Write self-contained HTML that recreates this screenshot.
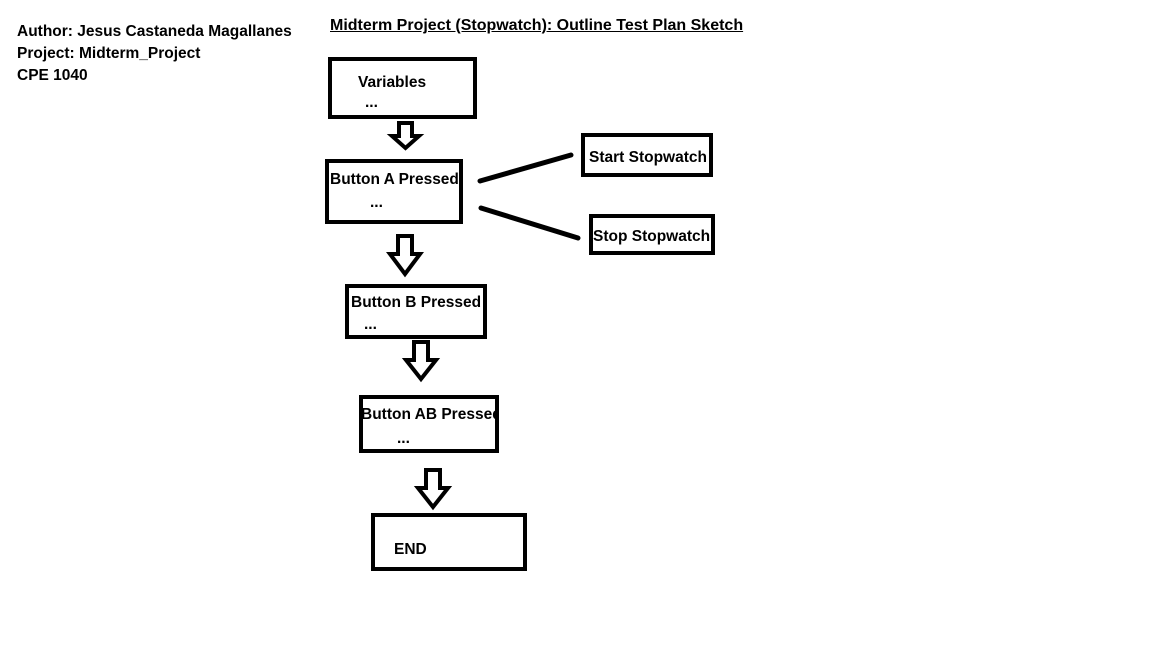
<!DOCTYPE html>
<html><head><style>
body{margin:0;width:1152px;height:648px;background:#fff;position:relative;overflow:hidden;font-family:"Liberation Sans",sans-serif;font-weight:bold;font-size:15.5px;color:#000}
.t{position:absolute;white-space:nowrap}
.b{position:absolute;border:4px solid #000;box-sizing:border-box;overflow:hidden}
</style></head><body>
<div class="t" style="left:17px;top:21px;line-height:22px">Author: Jesus Castaneda Magallanes<br>Project: Midterm_Project<br>CPE 1040</div>
<div class="t" style="left:330px;top:17px;text-decoration:underline;font-size:16px">Midterm Project (Stopwatch): Outline Test Plan Sketch</div>

<div class="b" style="left:328px;top:57px;width:149px;height:62px"></div>
<div class="t" style="left:358px;top:74px">Variables</div>
<div class="t" style="left:365px;top:94px">...</div>

<div class="b" style="left:325px;top:159px;width:138px;height:65px"><div class="t" style="left:1px;top:8px">Button A Pressed</div></div>
<div class="t" style="left:370px;top:194px">...</div>

<div class="b" style="left:581px;top:133px;width:132px;height:44px"><div class="t" style="left:4px;top:12px">Start Stopwatch</div></div>
<div class="b" style="left:589px;top:214px;width:126px;height:41px"><div class="t" style="left:0px;top:10px">Stop Stopwatch</div></div>

<div class="b" style="left:345px;top:284px;width:142px;height:55px"><div class="t" style="left:2px;top:6px">Button B Pressed</div></div>
<div class="t" style="left:364px;top:316px">...</div>

<div class="b" style="left:359px;top:395px;width:140px;height:58px"><div class="t" style="left:-2px;top:7px">Button AB Pressed</div></div>
<div class="t" style="left:397px;top:430px">...</div>

<div class="b" style="left:371px;top:513px;width:156px;height:58px"></div>
<div class="t" style="left:394px;top:541px">END</div>

<svg width="1152" height="648" style="position:absolute;left:0;top:0">
<g fill="none" stroke="#000" stroke-width="4" stroke-linejoin="miter">
<path d="M399 123 H412 V136 H419 L405.5 148 L392 136 H399 Z"/>
<path d="M398 236 H412 V254 H420 L405 274 L390 254 H398 Z"/>
<path d="M414 342 H428 V360 H436 L421 379 L406 360 H414 Z"/>
<path d="M426 470 H440 V488 H448 L433 507 L418 488 H426 Z"/>
</g>
<g stroke="#000" stroke-width="5" stroke-linecap="round">
<line x1="480" y1="181" x2="571" y2="155"/>
<line x1="481" y1="208" x2="578" y2="238"/>
</g>
</svg>
</body></html>
